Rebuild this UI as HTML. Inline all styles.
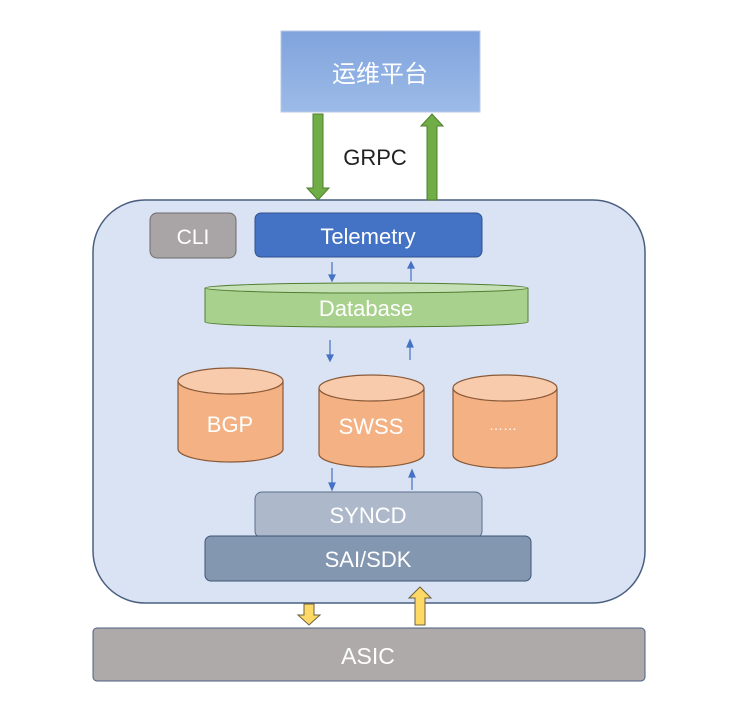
<!DOCTYPE html>
<html><head><meta charset="utf-8"><style>
body{margin:0;background:#fff;width:747px;height:718px;overflow:hidden}
svg text{font-family:"Liberation Sans","Noto Sans CJK SC",sans-serif;fill:#fff;text-anchor:middle}
</style></head><body>
<svg width="747" height="718" viewBox="0 0 747 718">
<defs>
<linearGradient id="g1" x1="0" y1="0" x2="0" y2="1"><stop offset="0" stop-color="#7fa3dc"/><stop offset="1" stop-color="#9dbbe8"/></linearGradient>
</defs>
<!-- top box -->
<rect x="281" y="31" width="199" height="81" fill="url(#g1)" stroke="#b8c9e6"/>
<text x="380" y="82" font-size="24">运维平台</text>
<!-- main container -->
<rect x="93" y="200" width="552" height="403" rx="52" fill="#dae3f3" stroke="#4a5f80" stroke-width="1.5"/>
<!-- green arrows -->
<polygon points="313,114 323,114 323,188 329,188 318,200 307,188 313,188" fill="#70ad47" stroke="#4e7f2e"/>
<polygon points="427,200 437,200 437,126 443,126 432,114 421,126 427,126" fill="#70ad47" stroke="#4e7f2e"/>
<text x="375" y="165" font-size="22" style="fill:#222">GRPC</text>
<!-- CLI / Telemetry -->
<rect x="150" y="213" width="86" height="45" rx="7" fill="#a9a5a6" stroke="#6f6b6c"/>
<text x="193" y="244" font-size="21">CLI</text>
<rect x="255" y="213" width="227" height="44" rx="6" fill="#4472c4" stroke="#2f528f"/>
<text x="368" y="244" font-size="22">Telemetry</text>
<!-- small arrows -->
<g stroke="#4472c4" fill="#4472c4" stroke-width="1.2">
<line x1="332" y1="262" x2="332" y2="276"/><polygon points="329,275 335,275 332,281"/>
<line x1="411" y1="266" x2="411" y2="281"/><polygon points="408,268 414,268 411,262"/>
<line x1="330" y1="340" x2="330" y2="356"/><polygon points="327,355 333,355 330,361"/>
<line x1="410" y1="345" x2="410" y2="360"/><polygon points="407,347 413,347 410,340"/>
<line x1="332" y1="468" x2="332" y2="484"/><polygon points="329,483 335,483 332,490"/>
<line x1="412" y1="475" x2="412" y2="490"/><polygon points="409,477 415,477 412,470"/>
</g>
<!-- Database -->
<path d="M205,288 L205,322 A161,5 0 0 0 528,322 L528,288" fill="#a9d18e" stroke="#507e32"/>
<ellipse cx="366.5" cy="288" rx="161.5" ry="5" fill="#c5e0b4" stroke="#507e32"/>
<text x="366" y="316" font-size="22">Database</text>
<!-- cylinders -->
<g fill="#f4b183" stroke="#8a5a38" stroke-width="1.2">
<path d="M178,381 L178,449 A52.5,13 0 0 0 283,449 L283,381"/>
<ellipse cx="230.5" cy="381" rx="52.5" ry="13" fill="#f8cbad"/>
<path d="M319,388 L319,454 A52.5,13 0 0 0 424,454 L424,388"/>
<ellipse cx="371.5" cy="388" rx="52.5" ry="13" fill="#f8cbad"/>
<path d="M453,388 L453,455 A52,13 0 0 0 557,455 L557,388"/>
<ellipse cx="505" cy="388" rx="52" ry="13" fill="#f8cbad"/>
</g>
<text x="230" y="432" font-size="22">BGP</text>
<text x="371" y="434" font-size="22">SWSS</text>
<text x="503" y="430" font-size="14">……</text>
<!-- SYNCD / SAI -->
<rect x="255" y="492" width="227" height="46" rx="7" fill="#adb9ca" stroke="#5a6d8c"/>
<text x="368" y="523" font-size="22">SYNCD</text>
<rect x="205" y="536" width="326" height="45" rx="6" fill="#8497b0" stroke="#3f5677"/>
<text x="368" y="567" font-size="22">SAI/SDK</text>
<!-- yellow arrows -->
<polygon points="304,604 314,604 314,615 320,615 309,625 298,615 304,615" fill="#ffd966" stroke="#6b6040"/>
<polygon points="415,625 425,625 425,598 431,598 420,587 409,598 415,598" fill="#ffd966" stroke="#6b6040"/>
<!-- ASIC -->
<rect x="93" y="628" width="552" height="53" rx="4" fill="#aeaaaa" stroke="#4a5f80"/>
<text x="368" y="664" font-size="23">ASIC</text>
</svg>
</body></html>
